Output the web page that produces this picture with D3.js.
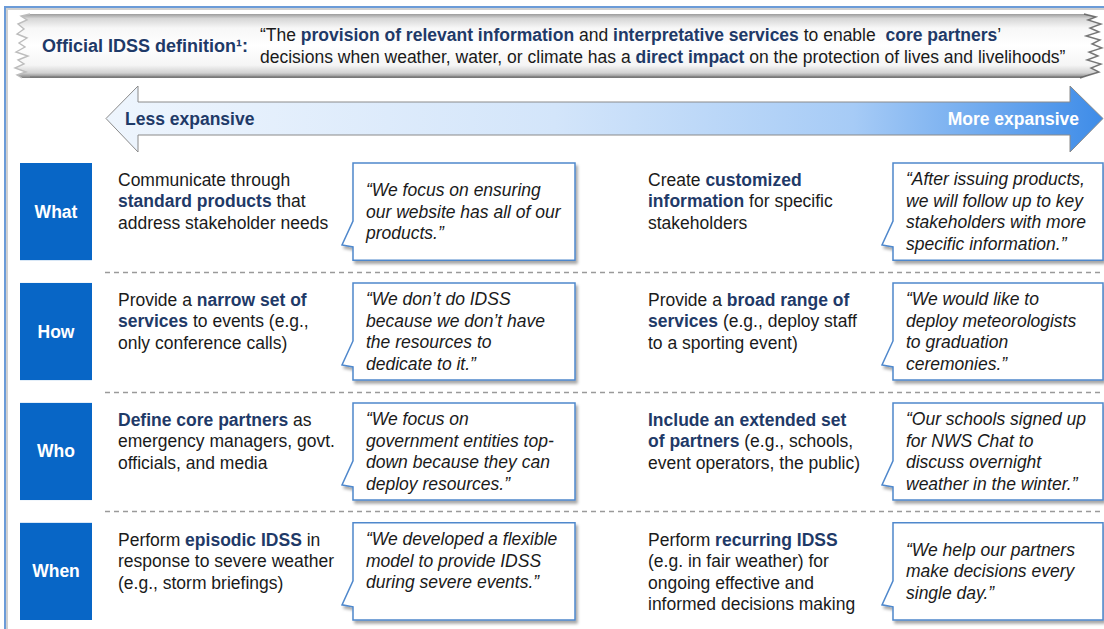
<!DOCTYPE html>
<html><head><meta charset="utf-8">
<script src="https://cdn.jsdelivr.net/npm/d3@7"></script>
<style>html,body{margin:0;padding:0;background:#fff}svg{display:block;font-family:"Liberation Sans",Arial,sans-serif}text{white-space:pre}</style>
</head><body><svg id="c" width="1104" height="629"></svg>
<script>
// ---------- data ----------
const rows = ["What", "How", "Who", "When"];
const leftText = [
  ["Communicate through", "**standard products** that", "address stakeholder needs"],
  ["Provide a **narrow set of**", "**services** to events (e.g.,", "only conference calls)"],
  ["**Define core partners** as", "emergency managers, govt.", "officials, and media"],
  ["Perform **episodic IDSS** in", "response to severe weather", "(e.g., storm briefings)"]
];
const leftQuotes = [
  ["“We focus on ensuring", "our website has all of our", "products.”"],
  ["“We don’t do IDSS", "because we don’t have", "the resources to", "dedicate to it.”"],
  ["“We focus on", "government entities top-", "down because they can", "deploy resources.”"],
  ["“We developed a flexible", "model to provide IDSS", "during severe events.”", ""]
];
const rightText = [
  ["Create **customized**", "**information** for specific", "stakeholders"],
  ["Provide a **broad range of**", "**services** (e.g., deploy staff", "to a sporting event)"],
  ["**Include an extended set**", "**of partners** (e.g., schools,", "event operators, the public)"],
  ["Perform **recurring IDSS**", "(e.g. in fair weather) for", "ongoing effective and", "informed decisions making"]
];
const rightQuotes = [
  ["“After issuing products,", "we will follow up to key", "stakeholders with more", "specific information.”"],
  ["“We would like to", "deploy meteorologists", "to graduation", "ceremonies.”"],
  ["“Our schools signed up", "for NWS Chat to", "discuss overnight", "weather in the winter.”"],
  ["“We help our partners", "make decisions every", "single day.”"]
];
const defLabel = "Official IDSS definition¹:";
const defLines = [
  "“The **provision of relevant information** and **interpretative services** to enable  **core partners**’",
  "decisions when weather, water, or climate has a **direct impact** on the protection of lives and livelihoods”"
];
const scaleEnds = ["Less expansive", "More expansive"];

// ---------- style ----------
const NAVY = "#1f3a68", INK = "#1a1a1a", BLUE = "#0866c6", EDGE = "#4f88cc";
const FS = 17.5, LH = 21.4, QLH = 21.5;

const svg = d3.select("#c");
const defs = svg.append("defs");

const sh = defs.append("filter").attr("id", "sh").attr("x", "-10%").attr("y", "-10%").attr("width", "130%").attr("height", "130%");
sh.append("feDropShadow").attr("dx", 2).attr("dy", 3).attr("stdDeviation", 1.6).attr("flood-color", "#000").attr("flood-opacity", 0.35);

const ag = defs.append("linearGradient").attr("id", "ag").attr("x1", 0).attr("x2", 1).attr("y1", 0).attr("y2", 0);
[[0, "#eef5fd"], [0.45, "#d3e5fa"], [0.75, "#a6cbf6"], [1, "#3e8ce8"]].forEach(s => ag.append("stop").attr("offset", s[0]).attr("stop-color", s[1]));

const bg = defs.append("linearGradient").attr("id", "bg").attr("x1", 0).attr("x2", 0).attr("y1", 0).attr("y2", 1);
[[0, "#9c9c9c"], [0.07, "#d6d6d6"], [0.22, "#f7f7f7"], [0.5, "#ffffff"], [0.8, "#f5f5f5"], [0.92, "#d2d2d2"], [1, "#7c7c7c"]].forEach(s => bg.append("stop").attr("offset", s[0]).attr("stop-color", s[1]));

// rich text helper: **bold** segments in navy bold
function rich(sel, str, color, bold) {
  const parts = str.split("**");
  parts.forEach((p, i) => {
    if (!p) return;
    const t = sel.append("tspan").text(p);
    if (i % 2 === 1) t.attr("font-weight", "bold").attr("fill", NAVY);
  });
}

// ---------- frame ----------
svg.append("path").attr("d", "M7,629 V9 H1104").attr("fill", "none").attr("stroke", "#d0d0d0").attr("stroke-width", 2);
svg.append("path").attr("d", "M5,629 V7 H1104").attr("fill", "none").attr("stroke", "#6b9bd8").attr("stroke-width", 2);

// ---------- banner ----------
const leftEdge = [[22,78],[17,75],[26,72],[15,68],[24,64],[18,60],[28,56],[16,52],[25,47],[19,43],[27,38],[17,34],[24,29],[18,24],[27,20],[21,16],[30,14]];
const rightEdge = [[1084,14],[1096,17],[1088,20],[1101,24],[1090,28],[1099,32],[1086,36],[1100,40],[1092,44],[1102,48],[1089,52],[1098,56],[1087,60],[1101,64],[1091,68],[1099,72],[1086,76],[1080,78]];
const bannerPts = [[30,14]].concat(rightEdge, leftEdge);
svg.append("path").attr("d", d3.line()(bannerPts) + "Z").attr("fill", "url(#bg)");
svg.append("path").attr("d", d3.line()(rightEdge)).attr("fill", "none").attr("stroke", "#555").attr("stroke-width", 1.4).attr("opacity", 0.8);
svg.append("path").attr("d", d3.line()(leftEdge)).attr("fill", "none").attr("stroke", "#bdbdbd").attr("stroke-width", 1.4);
svg.append("line").attr("x1", 30).attr("x2", 1082).attr("y1", 77).attr("y2", 77).attr("stroke", "#666").attr("stroke-width", 1.2).attr("opacity", 0.7);

svg.append("text").attr("x", 42).attr("y", 52).attr("font-size", 18).attr("font-weight", "bold").attr("fill", NAVY).text(defLabel);
defLines.forEach((l, i) => {
  const t = svg.append("text").attr("x", 260).attr("y", 41 + i * 21.5).attr("font-size", FS).attr("fill", INK);
  rich(t, l);
});

// ---------- arrow ----------
const ax = d3.scaleLinear().domain([0, 1]).range([106, 1103]);
const ay = 118.5;
const arrowPts = [[ax(0), ay], [138, 86], [138, 102], [1070, 102], [1070, 86], [ax(1), ay], [1070, 152], [1070, 135], [138, 135], [138, 152]];
svg.append("path").attr("d", d3.line()(arrowPts) + "Z").attr("fill", "url(#ag)").attr("stroke", "#8a8a8a").attr("stroke-width", 1);
svg.append("text").attr("x", 125).attr("y", 124.5).attr("font-size", FS).attr("font-weight", "bold").attr("fill", NAVY).text(scaleEnds[0]);
svg.append("text").attr("x", 1079).attr("y", 124.5).attr("text-anchor", "end").attr("font-size", FS).attr("font-weight", "bold").attr("fill", "#fff").text(scaleEnds[1]);

// ---------- rows ----------
const y = d3.scaleBand().domain(rows).range([163, 620]).paddingInner(0.19);
const col = { label: 20, labelW: 72, lt: 118, lq: 353, lqW: 222, rt: 648, rq: 893, rqW: 210 };

// separators
rows.slice(0, -1).forEach(r => {
  const yy = Math.round(y(r) + y.bandwidth() + (y.step() - y.bandwidth()) / 2) + 0.5;
  svg.append("line").attr("x1", 105).attr("x2", 1104).attr("y1", yy).attr("y2", yy)
    .attr("stroke", "#9a9a9a").attr("stroke-width", 1.3).attr("stroke-dasharray", "5,4");
});

function callout(x0, y0, w, h) {
  return `M${x0},${y0} H${x0 + w} V${y0 + h} H${x0} V${y0 + 84} L${x0 - 11},${y0 + 82} L${x0},${y0 + 58} Z`;
}

const g = svg.selectAll("g.row").data(rows).join("g").attr("class", "row");
g.each(function (r, i) {
  const s = d3.select(this);
  const y0 = y(r), h = y.bandwidth();
  s.append("rect").attr("x", col.label).attr("y", y0).attr("width", col.labelW).attr("height", h).attr("fill", BLUE);
  s.append("text").attr("x", col.label + col.labelW / 2).attr("y", y0 + h / 2 + 6).attr("text-anchor", "middle")
    .attr("font-size", FS).attr("font-weight", "bold").attr("fill", "#fff").text(r);

  [[leftText[i], col.lt], [rightText[i], col.rt]].forEach(([lines, x]) => {
    lines.forEach((l, k) => {
      const t = s.append("text").attr("x", x).attr("y", y0 + 23 + k * LH).attr("font-size", FS).attr("fill", INK);
      rich(t, l);
    });
  });

  [[leftQuotes[i], col.lq, col.lqW], [rightQuotes[i], col.rq, col.rqW]].forEach(([lines, x, w]) => {
    s.append("path").attr("d", callout(x, y0, w, h)).attr("fill", "#fff").attr("stroke", EDGE).attr("stroke-width", 1.5).attr("filter", "url(#sh)");
    const cy = y0 + h / 2;
    lines.forEach((l, k) => {
      s.append("text").attr("x", x + 13).attr("y", cy - (lines.length - 1) * QLH / 2 + 6 + k * QLH)
        .attr("font-size", FS).attr("font-style", "italic").attr("fill", INK).text(l);
    });
  });
});
</script></body></html>
